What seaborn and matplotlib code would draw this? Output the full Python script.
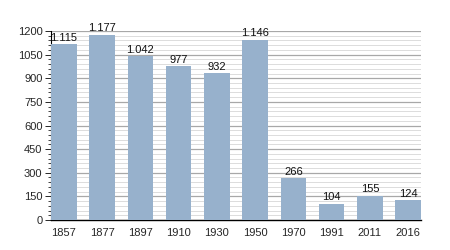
import matplotlib
matplotlib.use("Agg")
import matplotlib.pyplot as plt
from matplotlib.ticker import MultipleLocator
import seaborn as sns
import pandas as pd

years = ["1857", "1877", "1897", "1910", "1930", "1950", "1970", "1991", "2011", "2016"]
population = [1115, 1177, 1042, 977, 932, 1146, 266, 104, 155, 124]
labels = ["1.115", "1.177", "1.042", "977", "932", "1.146", "266", "104", "155", "124"]

df = pd.DataFrame({"year": years, "pop": population})

sns.set_style("white")
plt.rcParams["font.family"] = ["Liberation Sans", "DejaVu Sans"]

fig = plt.figure(figsize=(4.5, 2.5), dpi=100)
ax = fig.add_axes([0.113, 0.12, 0.823, 0.756])

sns.barplot(data=df, x="year", y="pop", color="#97b1cc", width=0.67,
            saturation=1, linewidth=0, edgecolor="none", ax=ax, zorder=3)

ax.set_ylim(0, 1200)
ax.set_xlim(-0.34, 9.34)
ax.yaxis.set_major_locator(MultipleLocator(150))
ax.yaxis.set_minor_locator(MultipleLocator(30))
ax.grid(which="major", axis="y", color="#a8a8a8", linewidth=0.9, zorder=0)
ax.grid(which="minor", axis="y", color="#dcdcdc", linewidth=0.7, zorder=0)
ax.set_axisbelow(True)

for i, (v, t) in enumerate(zip(population, labels)):
    ax.text(i, v + 8, t, ha="center", va="bottom", fontsize=8, color="#111111")

for s in ["top", "right"]:
    ax.spines[s].set_visible(False)
ax.spines["left"].set_color("black")
ax.spines["left"].set_linewidth(0.8)
ax.spines["bottom"].set_color("black")
ax.spines["bottom"].set_linewidth(1.0)

ax.tick_params(axis="y", which="major", left=True, length=4, width=0.7, labelsize=8, pad=2)
ax.tick_params(axis="y", which="minor", left=True, length=2, width=0.6)
ax.tick_params(axis="x", bottom=False, labelsize=8, pad=2)
ax.set_xlabel("")
ax.set_ylabel("")

fig.savefig("out.png", dpi=100)
